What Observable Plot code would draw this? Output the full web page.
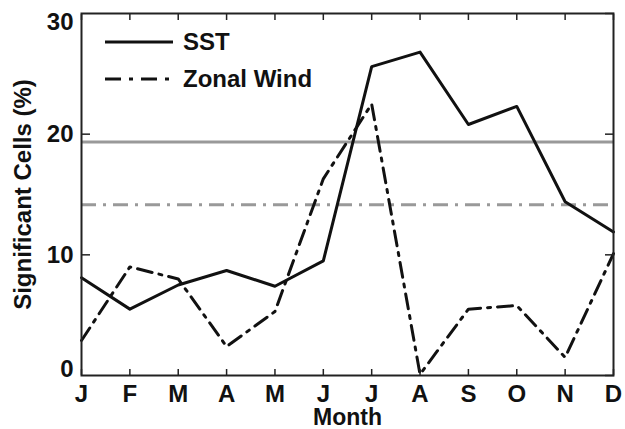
<!DOCTYPE html>
<html><head><meta charset="utf-8">
<script src="https://cdn.jsdelivr.net/npm/d3@7"></script>
<script src="https://cdn.jsdelivr.net/npm/@observablehq/plot@0.6"></script>
<style>
body{margin:0;background:#fff}
#chart{width:625px;height:429px}
#chart svg{font-family:"Liberation Sans",Arial,Helvetica,sans-serif;font-weight:bold}
</style>
</head><body><div id="chart"></div>
<script>
const monthLabels = ["J","F","M","A","M","J","J","A","S","O","N","D"];
const monthIndex = [1,2,3,4,5,6,7,8,9,10,11,12];
const sstValues = [8.1,5.5,7.5,8.7,7.4,9.5,25.6,26.8,20.8,22.3,14.4,11.9];
const windValues = [2.9,9.0,8.0,2.4,5.3,16.3,22.5,0.1,5.5,5.8,1.5,10.1];
const sstThreshold = [19.35];
const windThreshold = [14.15];
const yTicks = [0,10,20,30];
const seriesNames = ["SST","Zonal Wind"];
const xLabel = "Month";
const yLabel = "Significant Cells (%)";

const dashDot = "15,7,3,7";
const sst = monthIndex.map((m,i)=>({m, v: sstValues[i]}));
const wind = monthIndex.map((m,i)=>({m, v: windValues[i]}));

function legend(index, scales, values, dims) {
  const g = d3.create("svg:g");
  const x0 = dims.marginLeft + 24, x1 = x0 + 68, tx = x1 + 10;
  const rows = [{y: dims.marginTop + 29, dash: null}, {y: dims.marginTop + 66, dash: "16,8,4,8"}];
  rows.forEach((r, i) => {
    g.append("line").attr("x1", x0).attr("x2", x1).attr("y1", r.y).attr("y2", r.y)
      .attr("stroke", "#111").attr("stroke-width", 3).attr("stroke-dasharray", r.dash);
    g.append("text").attr("x", tx).attr("y", r.y + 8).attr("font-size", 24)
      .attr("text-anchor", "start")
      .attr("font-weight", "bold").attr("fill", "#111").text(seriesNames[i]);
  });
  return g.node();
}

const axisFont = {fontSize: 24, fontWeight: "bold"};
const chart = Plot.plot({
  width: 625, height: 429,
  marginLeft: 81, marginRight: 12, marginTop: 13, marginBottom: 54,
  style: {fontSize: "24px", color: "#111", background: "#fff"},
  x: {type: "linear", domain: [1, 12]},
  y: {domain: [0, 30]},
  marks: [
    Plot.ruleY(sstThreshold, {stroke: "#999", strokeWidth: 3}),
    Plot.ruleY(windThreshold, {stroke: "#999", strokeWidth: 3, strokeDasharray: dashDot}),
    Plot.line(sst, {x: "m", y: "v", stroke: "#111", strokeWidth: 3}),
    Plot.line(wind, {x: "m", y: "v", stroke: "#111", strokeWidth: 3, strokeDasharray: dashDot}),
    Plot.axisX(monthIndex, {anchor: "bottom", tickSize: -6, tickPadding: 15, label: null,
      tickFormat: d => monthLabels[d-1], stroke: "#222", strokeWidth: 1.5, ...axisFont}),
    Plot.axisX(monthIndex, {anchor: "top", tickSize: -6, label: null, tickFormat: () => "", stroke: "#222", strokeWidth: 1.5}),
    Plot.axisY([10, 20], {anchor: "left", tickSize: -9, tickPadding: 17, label: null, stroke: "#222", strokeWidth: 1.5, ...axisFont}),
    Plot.axisY([0], {anchor: "left", tickSize: 0, tickPadding: 8, dy: -6, label: null, ...axisFont}),
    Plot.axisY([30], {anchor: "left", tickSize: 0, tickPadding: 8, dy: 9, label: null, ...axisFont}),
    Plot.axisY(yTicks, {anchor: "right", tickSize: -9, label: null, tickFormat: () => "", stroke: "#222", strokeWidth: 1.5}),
    Plot.frame({stroke: "#222", strokeWidth: 2}),
    Plot.text([xLabel], {frameAnchor: "bottom", dy: 42, text: d => d, textAnchor: "middle", lineAnchor: "middle", fill: "#111", fontSize: 23, fontWeight: "bold"}),
    Plot.text([yLabel], {frameAnchor: "left", dx: -58, rotate: -90, text: d => d, textAnchor: "middle", lineAnchor: "middle", fill: "#111", ...axisFont}),
    legend
  ]
});
document.getElementById("chart").appendChild(chart);
</script>
</body></html>
